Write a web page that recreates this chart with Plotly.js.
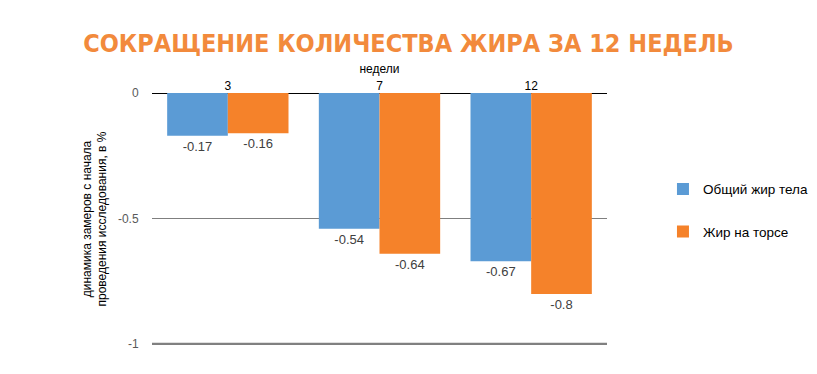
<!DOCTYPE html>
<html><head><meta charset="utf-8">
<script src="https://cdn.plot.ly/plotly-3.0.1.min.js"></script>
<style>html,body{margin:0;padding:0;background:#fff}#c{width:817px;height:374px}</style>
</head><body><div id="c"></div>
<script>
const weeks = ['3', '7', '12'];
const totalFat = [-0.17, -0.54, -0.67];
const torsoFat = [-0.16, -0.64, -0.8];
const seriesNames = ['Общий жир тела', 'Жир на торсе'];
const yTicks = [0, -0.5, -1];
const yTickText = ['0', '-0.5', '-1'];

const font = 'Liberation Sans, Arial, sans-serif';
const traces = [
  {type:'bar', x:weeks, y:totalFat, name:seriesNames[0], legendgroup:'a',
   marker:{color:'#5b9bd5'}, text:totalFat.map(String), textposition:'outside',
   textfont:{color:'#404040', size:13, family:font}, cliponaxis:false},
  {type:'bar', x:weeks, y:torsoFat, name:seriesNames[1], legendgroup:'b',
   marker:{color:'#f5822a'}, text:torsoFat.map(String), textposition:'outside',
   textfont:{color:'#404040', size:13, family:font}, cliponaxis:false}
];
const layout = {
  width:817, height:374,
  margin:{l:152, r:210, t:93, b:29, autoexpand:false},
  paper_bgcolor:'#fff', plot_bgcolor:'#fff',
  font:{family:font, size:12, color:'#000'},
  barmode:'group', bargap:0.2, bargroupgap:0,
  title:{text:'СОКРАЩЕНИЕ КОЛИЧЕСТВА ЖИРА ЗА 12 НЕДЕЛЬ', x:0.5, xref:'container', xanchor:'center', y:0.885, yref:'container', yanchor:'middle',
    font:{family:'DejaVu Sans Condensed, sans-serif', size:25, color:'#f28a3c', weight:'bold'}},
  xaxis:{side:'top', type:'category', showgrid:false, showline:false, ticks:'', 
    tickfont:{size:12, color:'#000'},
    title:{text:'недели', font:{size:12, color:'#000'}, standoff:2}},
  yaxis:{range:[-1.003, 0.0], tickvals:yTicks, ticktext:yTickText, showgrid:true, gridcolor:'#7f7f7f', gridwidth:1,
    zeroline:true, zerolinecolor:'#000', zerolinewidth:1, showline:false,
    ticks:'outside', tickcolor:'rgba(0,0,0,0)', ticklen:10,
    tickfont:{size:12, color:'#595959'},
    title:{text:'динамика замеров с начала<br>проведения исследования, в %', font:{size:12, color:'#000'}, standoff:8}},
  legend:{x:1.123, xanchor:'left', y:0.68, yanchor:'top', traceorder:'grouped', tracegroupgap:22,
    font:{size:13.5, color:'#000'}, itemwidth:30},
  shapes:[{type:'line', xref:'paper', x0:0, x1:1, yref:'y', y0:-1, y1:-1, line:{color:'#808080', width:3}, layer:'below'}],
  showlegend:true
};
Plotly.newPlot('c', traces, layout, {displayModeBar:false, staticPlot:true});
</script></body></html>
